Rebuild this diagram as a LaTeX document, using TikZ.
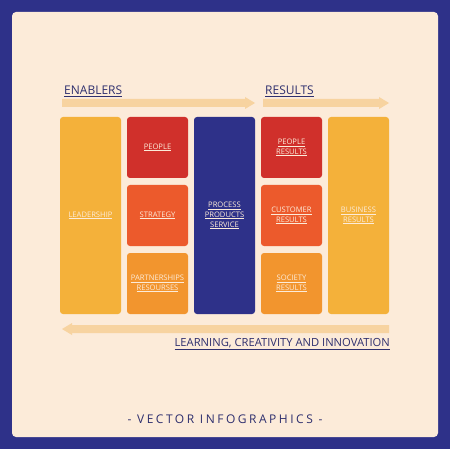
\documentclass[tikz,border=0pt]{standalone}
\usepackage{fontspec}
\setmainfont{Open Sans}
\newfontfamily\spacedfont[LetterSpace=21]{Open Sans}
\definecolor{frameblue}{HTML}{2E3189}
\definecolor{cream}{HTML}{FCEBD9}
\definecolor{yel}{HTML}{F4B13A}
\definecolor{red1}{HTML}{D0302B}
\definecolor{ored}{HTML}{EC5A2C}
\definecolor{orng}{HTML}{F2952E}
\definecolor{arrowc}{HTML}{F7D3A0}
\definecolor{lbl}{HTML}{FCEBD9}
\definecolor{txtblue}{HTML}{2E2F6E}
\tikzset{
  box/.style={rounded corners=3pt, inner sep=0pt, text=lbl, font=\fontsize{7.6}{9.8}\selectfont, align=center},
  head/.style={text=txtblue, font=\fontsize{12}{14}\selectfont, inner sep=0pt, anchor=base west},
  band/.style={fill=arrowc, draw=none}
}
\newcommand{\ul}[1]{\underline{#1}}
\begin{document}
\begin{tikzpicture}[x=1pt,y=-1pt]
\useasboundingbox (0,0) rectangle (450,470);
\fill[white] (0,0) rectangle (450,470);
\fill[frameblue] (0,0) rectangle (450,449);
\fill[cream, rounded corners=4pt] (12,12) rectangle (438,437);
% headings
\node[head] (en) at (64,95) {\ul{ENABLERS}};
\node[head] (re) at (265,95) {\ul{RESULTS}};
% arrows
\fill[band] (62,99) -- (245,99) -- (245,97) -- (255,103) -- (245,109) -- (245,107) -- (62,107) -- cycle;
\fill[band] (263,99) -- (379,99) -- (379,97) -- (389,103) -- (379,109) -- (379,107) -- (263,107) -- cycle;
\fill[band] (389,325) -- (72,325) -- (72,323) -- (62,329) -- (72,335) -- (72,333) -- (389,333) -- cycle;
% boxes
\node[box, fill=yel, minimum width=61pt, minimum height=197pt] (lead) at (90.5,215.5) {\ul{LEADERSHIP}};
\node[box, fill=red1, minimum width=61pt, minimum height=61pt] (people) at (157.5,147.5) {\ul{PEOPLE}};
\node[box, fill=ored, minimum width=61pt, minimum height=61pt] (strat) at (157.5,215.5) {\ul{STRATEGY}};
\node[box, fill=orng, minimum width=61pt, minimum height=61pt] (part) at (157.5,283.5) {\ul{PARTNERSHIPS}\\\ul{RESOURSES}};
\node[box, fill=frameblue, minimum width=61pt, minimum height=197pt] (proc) at (224.5,215.5) {\ul{PROCESS}\\\ul{PRODUCTS}\\\ul{SERVICE}};
\node[box, fill=red1, minimum width=61pt, minimum height=61pt] (pres) at (291.5,147.5) {\ul{PEOPLE}\\\ul{RESULTS}};
\node[box, fill=ored, minimum width=61pt, minimum height=61pt] (cres) at (291.5,215.5) {\ul{CUSTOMER}\\\ul{RESULTS}};
\node[box, fill=orng, minimum width=61pt, minimum height=61pt] (sres) at (291.5,283.5) {\ul{SOCIETY}\\\ul{RESULTS}};
\node[box, fill=yel, minimum width=61pt, minimum height=197pt] (bres) at (358.5,215.5) {\ul{BUSINESS}\\\ul{RESULTS}};
% bottom label
\node[head, anchor=base east, font=\fontsize{11.2}{13}\selectfont] (learn) at (390,346) {\ul{LEARNING, CREATIVITY AND INNOVATION}};
\node[text=txtblue, inner sep=0pt, font=\spacedfont\fontsize{12}{14}\selectfont] (vec) at (225,419) {- VECTOR INFOGRAPHICS -};
\end{tikzpicture}
\end{document}
